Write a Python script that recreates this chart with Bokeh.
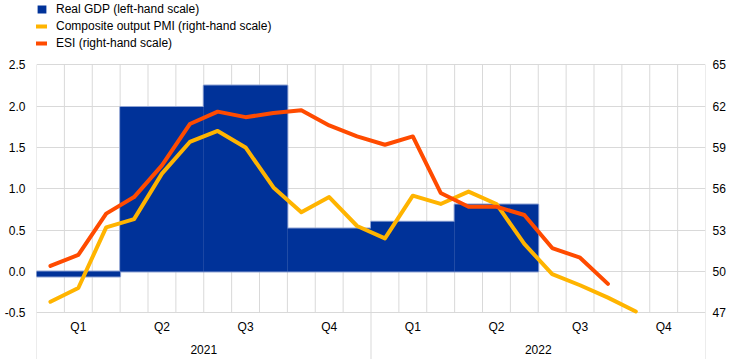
from bokeh.plotting import figure
from bokeh.models import (Range1d, LinearAxis, FixedTicker, Legend, LegendItem,
                          NumeralTickFormatter)
from bokeh.core.properties import value
from bokeh.embed import file_html
from bokeh.resources import INLINE

# ---------------- data ----------------
quarter_labels = ["Q1", "Q2", "Q3", "Q4", "Q1", "Q2", "Q3", "Q4"]
year_labels = ["2021", "2022"]
# Real GDP, quarter-on-quarter % (left-hand scale), 2021 Q1 - 2022 Q2
gdp = [-0.06, 1.99, 2.25, 0.52, 0.60, 0.81]
# Composite output PMI (right-hand scale), Jan 2021 - Oct 2022
pmi = [47.8, 48.8, 53.2, 53.8, 57.1, 59.4, 60.2, 59.0, 56.1, 54.3, 55.4, 53.3,
       52.4, 55.5, 54.9, 55.8, 54.9, 52.0, 49.8, 49.0, 48.1, 47.1]
# ESI (right-hand scale), Jan 2021 - Sep 2022
esi = [50.4, 51.2, 54.2, 55.4, 57.7, 60.7, 61.6, 61.2, 61.5, 61.7, 60.6, 59.8,
       59.2, 59.8, 55.7, 54.7, 54.7, 54.1, 51.7, 51.0, 49.1]
left_ticks = [-0.5, 0.0, 0.5, 1.0, 1.5, 2.0, 2.5]
right_ticks = [47, 50, 53, 56, 59, 62, 65]
n_months = 24

# ---------------- styling / layout ----------------
FONT = "Liberation Sans"
GRID = "#d9d9d9"
BLUE = "#003299"
EDGE = "#8fa3d3"
YELLOW = "#FFB400"
ORANGE = "#FF4B00"

W, H = 744, 359
LEFT, RIGHT = 36, 39
DATA_TOP, DATA_BOT = 64.3, 312.3      # pixel rows of 2.5 / -0.5
data_px = DATA_BOT - DATA_TOP
l_lo, l_hi = left_ticks[0], left_ticks[-1]
r_lo, r_hi = right_ticks[0], right_ticks[-1]
lu = (l_hi - l_lo) / data_px
ru = (r_hi - r_lo) / data_px
y_range = Range1d(l_lo - (H - DATA_BOT) * lu, l_hi + DATA_TOP * lu)
r_range = Range1d(r_lo - (H - DATA_BOT) * ru, r_hi + DATA_TOP * ru)

p = figure(width=W, height=H, output_backend="svg", toolbar_location=None,
           x_range=Range1d(0, n_months), y_range=y_range,
           x_axis_location=None,
           min_border_left=LEFT, min_border_right=RIGHT,
           min_border_top=0, min_border_bottom=0)
p.outline_line_color = None
p.background_fill_color = "white"
p.border_fill_color = "white"
p.extra_y_ranges = {"right": r_range}

# horizontal grid
p.ygrid.ticker = FixedTicker(ticks=left_ticks)
p.ygrid.grid_line_color = GRID
p.ygrid.grid_line_width = 1
p.xgrid.visible = False

# vertical month gridlines (inside the data area only)
months = list(range(n_months + 1))
p.segment(x0=months, x1=months, y0=[l_lo] * len(months), y1=[l_hi] * len(months),
          line_color=GRID, line_width=1)
# year separators running down through the category labels
seps = [0, 12, 24]
p.segment(x0=seps, x1=seps, y0=[l_lo] * 3, y1=[y_range.start] * 3,
          line_color=GRID, line_width=1)

# left axis
ax = p.yaxis[0]
ax.ticker = FixedTicker(ticks=left_ticks)
ax.formatter = NumeralTickFormatter(format="0.0")
ax.axis_line_color = None
ax.major_tick_line_color = None
ax.minor_tick_line_color = None
ax.major_tick_out = 0
ax.major_tick_in = 0
ax.major_label_standoff = 11
ax.major_label_text_font = FONT
ax.major_label_text_font_size = "12px"
ax.major_label_text_color = "#000000"

# right axis
rax = LinearAxis(y_range_name="right", ticker=FixedTicker(ticks=right_ticks))
rax.axis_line_color = None
rax.major_tick_line_color = None
rax.minor_tick_line_color = None
rax.major_tick_out = 0
rax.major_tick_in = 0
rax.major_label_standoff = 7
rax.major_label_text_font = FONT
rax.major_label_text_font_size = "12px"
rax.major_label_text_color = "#000000"
p.add_layout(rax, "right")

# bars: outer light edge, then fill on top (hides edges shared between bars)
qx = [1.5 + 3 * i for i in range(len(gdp))]
p.vbar(x=qx, width=3, top=gdp, bottom=0, fill_color=BLUE,
       line_color=EDGE, line_width=2)
bars = p.vbar(x=qx, width=3, top=gdp, bottom=0, fill_color=BLUE, line_color=None)

# lines
mx_p = [i + 0.5 for i in range(len(pmi))]
mx_e = [i + 0.5 for i in range(len(esi))]
l_pmi = p.line(mx_p, pmi, y_range_name="right", line_color=YELLOW, line_width=4,
               line_cap="round", line_join="round")
l_esi = p.line(mx_e, esi, y_range_name="right", line_color=ORANGE, line_width=4,
               line_cap="round", line_join="round")

# category labels under the chart
qcx = [1.5 + 3 * i for i in range(len(quarter_labels))]
p.text(x=qcx, y=[l_lo] * len(qcx), text=quarter_labels, y_offset=14,
       text_align="center", text_baseline="middle",
       text_font=value(FONT), text_font_size="12px", text_color="#000000")
ycx = [6 + 12 * i for i in range(len(year_labels))]
p.text(x=ycx, y=[l_lo] * len(ycx), text=year_labels, y_offset=37,
       text_align="center", text_baseline="middle",
       text_font=value(FONT), text_font_size="12px", text_color="#000000")

LEG_H = 51
legend = Legend(items=[
    LegendItem(label="Real GDP (left-hand scale)", renderers=[bars]),
    LegendItem(label="Composite output PMI (right-hand scale)", renderers=[l_pmi]),
    LegendItem(label="ESI (right-hand scale)", renderers=[l_esi]),
], location=(0, H - LEG_H), orientation="vertical",
    glyph_width=11, glyph_height=10, label_height=17, label_standoff=9,
    spacing=0, padding=0, margin=0,
    label_text_font=FONT, label_text_font_size="12px", label_text_color="#000000",
    border_line_color=None, background_fill_alpha=0)
p.add_layout(legend, "center")

open("out.html", "w").write(file_html(p, INLINE))
